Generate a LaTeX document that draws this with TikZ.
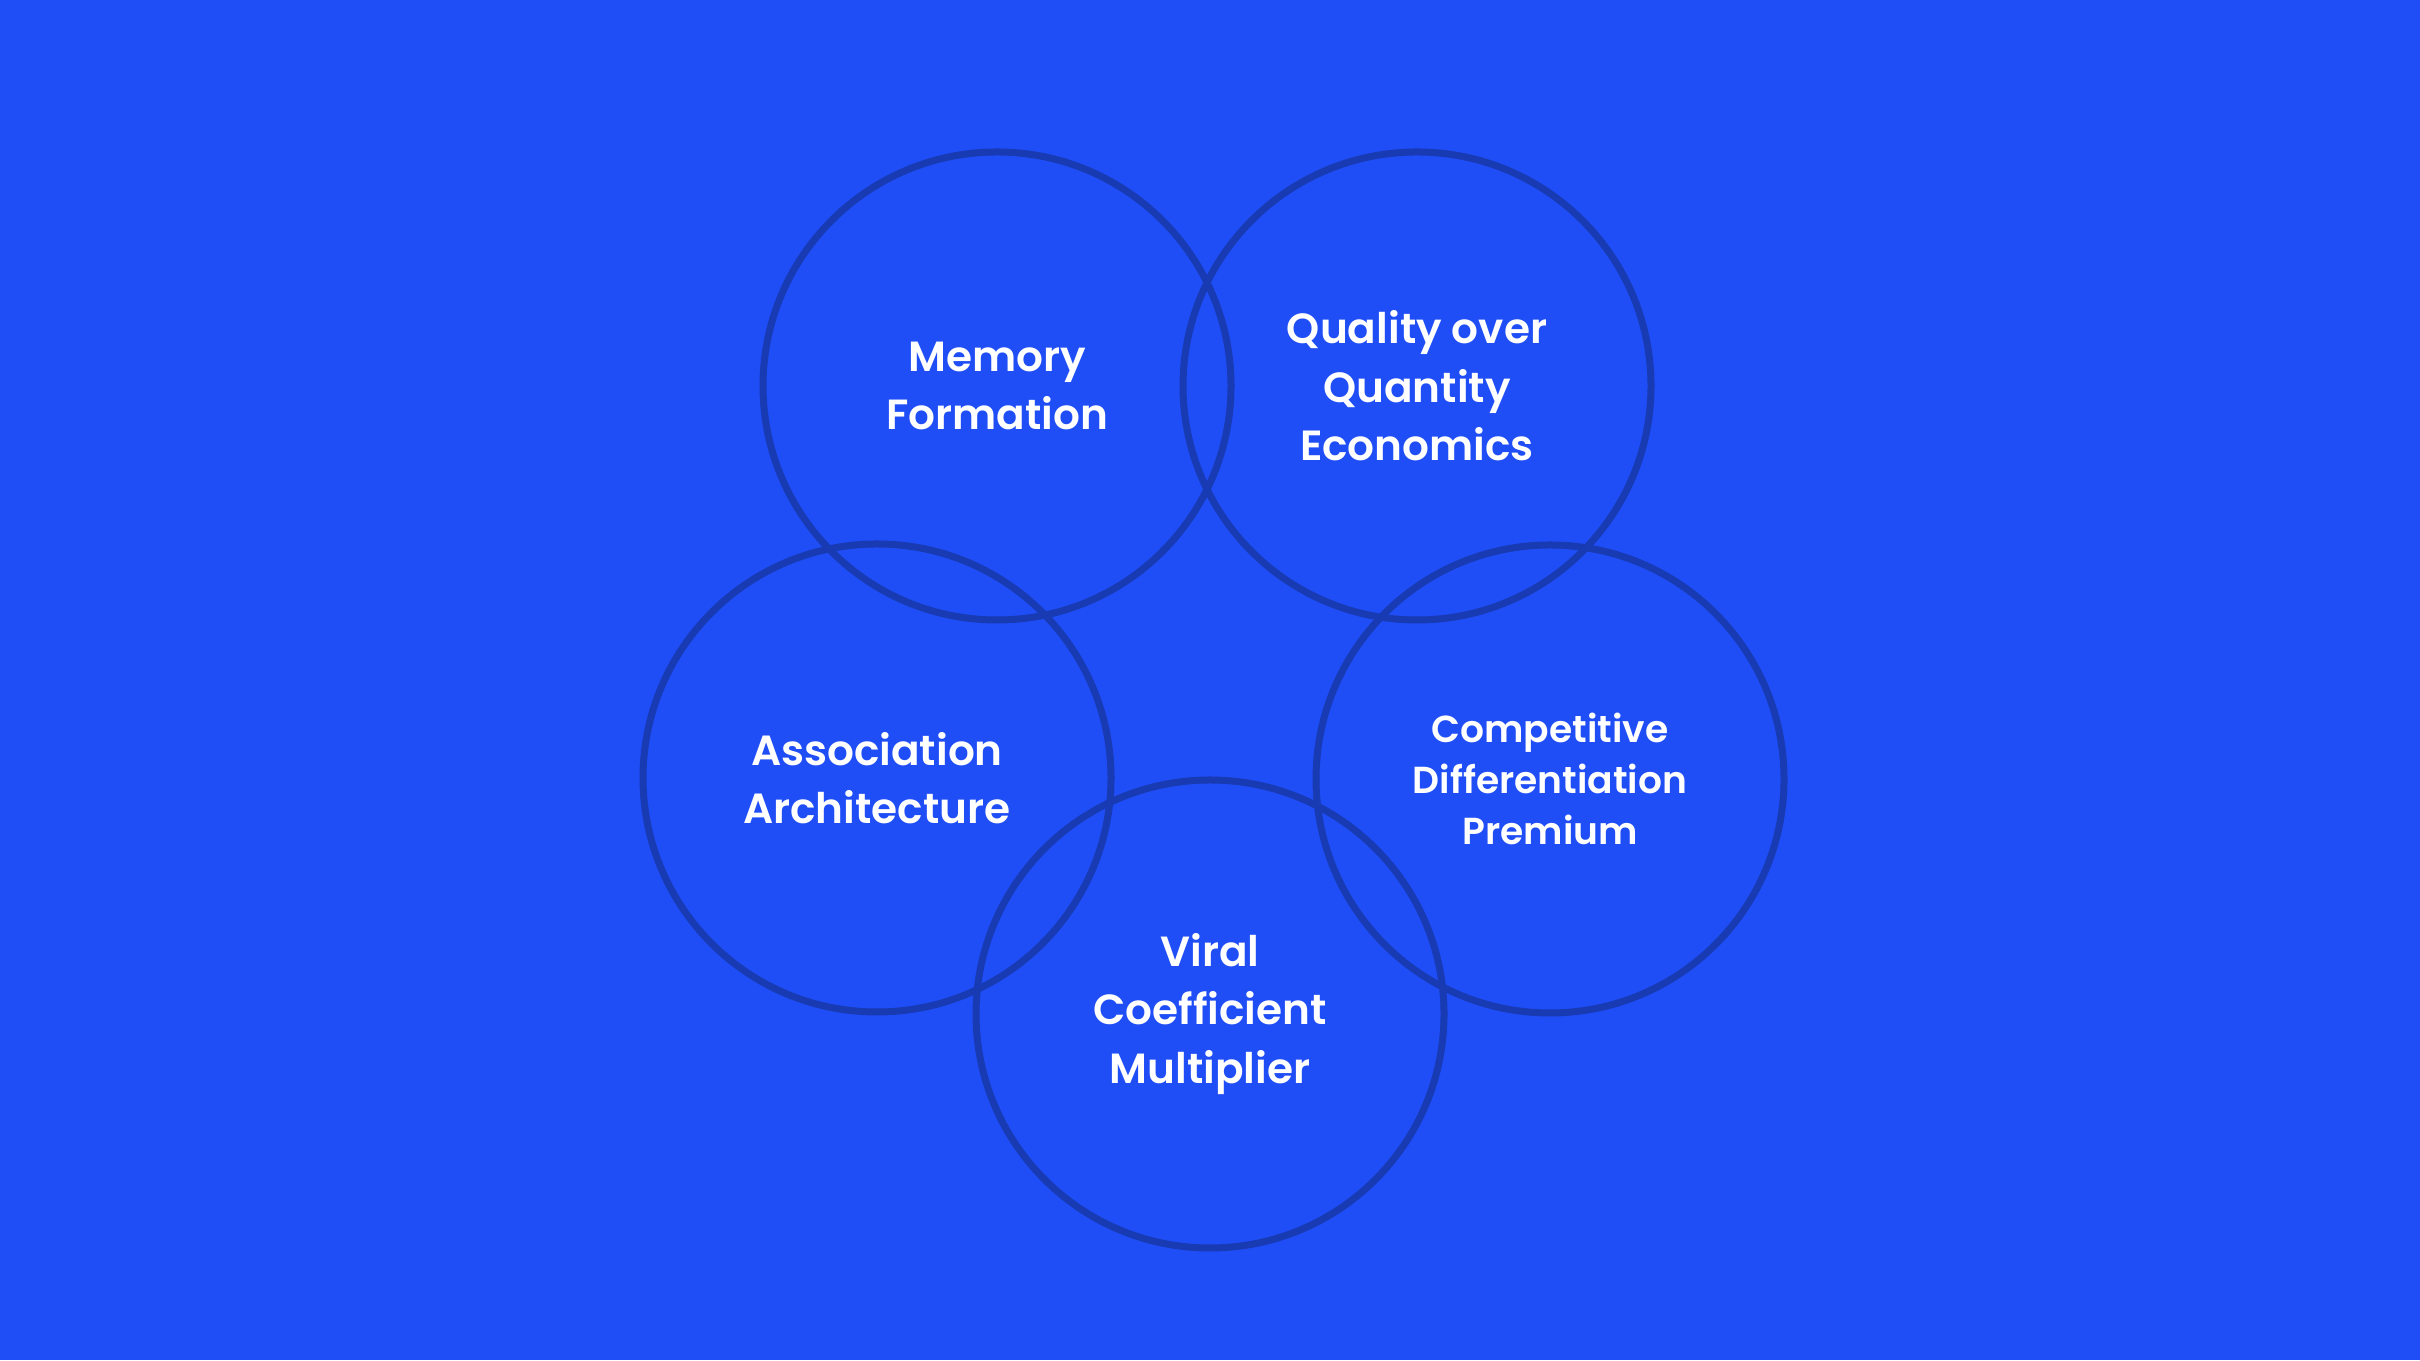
\documentclass[tikz,border=0pt]{standalone}
\usepackage{fontspec}
\setmainfont{Poppins}[BoldFont={Poppins SemiBold}]
\definecolor{bgblue}{RGB}{31,78,247}
\definecolor{ringblue}{RGB}{24,58,178}
\begin{document}
\begin{tikzpicture}[
  ring/.style={circle, draw=ringblue, line width=0.07cm, minimum size=4.68cm,
    inner sep=0pt, text=white, align=center,
    font=\bfseries\fontsize{12}{16.6}\selectfont},
  smallring/.style={ring, font=\bfseries\fontsize{10.7}{14.5}\selectfont}
]
\fill[bgblue] (0,0) rectangle (24.2,13.6);
\useasboundingbox (0,0) rectangle (24.2,13.6);
\node[ring] (memory) at (9.97,9.74) {Memory\\Formation};
\node[ring] (quality) at (14.17,9.74) {Quality over\\Quantity\\Economics};
\node[ring] (assoc) at (8.77,5.82) {Association\\Architecture};
\node[smallring] (compet) at (15.50,5.81) {Competitive\\Differentiation\\Premium};
\node[ring] (viral) at (12.10,3.46) {Viral\\Coefficient\\Multiplier};
\end{tikzpicture}
\end{document}
